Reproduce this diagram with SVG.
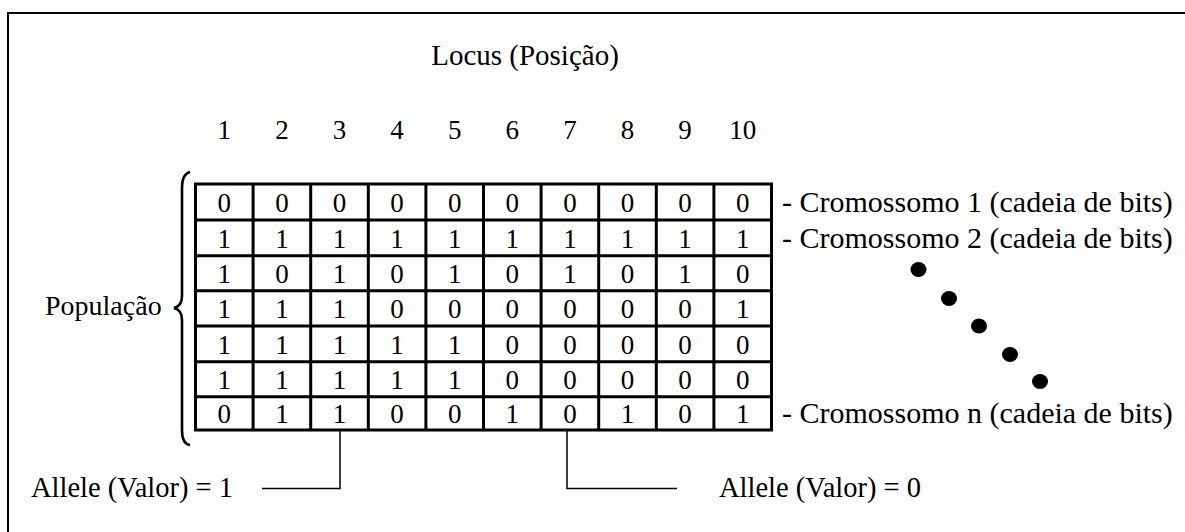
<svg xmlns="http://www.w3.org/2000/svg" width="1185" height="532" viewBox="0 0 1185 532">
  <style>
    text { font-family: "Liberation Serif", "Times New Roman", serif; fill: #000; }
    .num { font-size: 27px; text-anchor: middle; }
    .lbl { font-size: 28.5px; }
    .chr { font-size: 30px; }
    .grid { fill: none; stroke: #000; stroke-width: 3; }
    .thin { fill: none; stroke: #000; stroke-width: 1.5; }
    .dot { fill: #000; }
  </style>

  <!-- outer frame (runs past the right and bottom edges) -->
  <rect x="8" y="13" width="1200" height="540" fill="#fff" stroke="#000" stroke-width="2"/>

  <!-- title -->
  <g id="title">
    <text x="525" y="65" text-anchor="middle" style="font-size:29px">Locus (Posição)</text>
  </g>

  <!-- locus indices -->
  <g id="locus-index">
    <text class="num" x="224.3" y="139">1</text>
    <text class="num" x="281.9" y="139">2</text>
    <text class="num" x="339.5" y="139">3</text>
    <text class="num" x="397.1" y="139">4</text>
    <text class="num" x="454.7" y="139">5</text>
    <text class="num" x="512.3" y="139">6</text>
    <text class="num" x="569.9" y="139">7</text>
    <text class="num" x="627.5" y="139">8</text>
    <text class="num" x="685.1" y="139">9</text>
    <text class="num" x="742.7" y="139">10</text>
  </g>

  <!-- population bit matrix -->
  <g id="matrix">
    <rect class="grid" x="195.5" y="184" width="576" height="246"/>
    <path class="grid" d="M253.1,184V430 M310.7,184V430 M368.3,184V430 M425.9,184V430 M483.5,184V430 M541.1,184V430 M598.7,184V430 M656.3,184V430 M713.9,184V430"/>
    <path class="grid" d="M195.5,220H771.5 M195.5,255.7H771.5 M195.5,290.7H771.5 M195.5,326H771.5 M195.5,361.7H771.5 M195.5,396.7H771.5"/>

    <g id="row1">
      <text class="num" x="224.3" y="212">0</text><text class="num" x="281.9" y="212">0</text><text class="num" x="339.5" y="212">0</text><text class="num" x="397.1" y="212">0</text><text class="num" x="454.7" y="212">0</text><text class="num" x="512.3" y="212">0</text><text class="num" x="569.9" y="212">0</text><text class="num" x="627.5" y="212">0</text><text class="num" x="685.1" y="212">0</text><text class="num" x="742.7" y="212">0</text>
    </g>
    <g id="row2">
      <text class="num" x="224.3" y="248">1</text><text class="num" x="281.9" y="248">1</text><text class="num" x="339.5" y="248">1</text><text class="num" x="397.1" y="248">1</text><text class="num" x="454.7" y="248">1</text><text class="num" x="512.3" y="248">1</text><text class="num" x="569.9" y="248">1</text><text class="num" x="627.5" y="248">1</text><text class="num" x="685.1" y="248">1</text><text class="num" x="742.7" y="248">1</text>
    </g>
    <g id="row3">
      <text class="num" x="224.3" y="283">1</text><text class="num" x="281.9" y="283">0</text><text class="num" x="339.5" y="283">1</text><text class="num" x="397.1" y="283">0</text><text class="num" x="454.7" y="283">1</text><text class="num" x="512.3" y="283">0</text><text class="num" x="569.9" y="283">1</text><text class="num" x="627.5" y="283">0</text><text class="num" x="685.1" y="283">1</text><text class="num" x="742.7" y="283">0</text>
    </g>
    <g id="row4">
      <text class="num" x="224.3" y="318">1</text><text class="num" x="281.9" y="318">1</text><text class="num" x="339.5" y="318">1</text><text class="num" x="397.1" y="318">0</text><text class="num" x="454.7" y="318">0</text><text class="num" x="512.3" y="318">0</text><text class="num" x="569.9" y="318">0</text><text class="num" x="627.5" y="318">0</text><text class="num" x="685.1" y="318">0</text><text class="num" x="742.7" y="318">1</text>
    </g>
    <g id="row5">
      <text class="num" x="224.3" y="354">1</text><text class="num" x="281.9" y="354">1</text><text class="num" x="339.5" y="354">1</text><text class="num" x="397.1" y="354">1</text><text class="num" x="454.7" y="354">1</text><text class="num" x="512.3" y="354">0</text><text class="num" x="569.9" y="354">0</text><text class="num" x="627.5" y="354">0</text><text class="num" x="685.1" y="354">0</text><text class="num" x="742.7" y="354">0</text>
    </g>
    <g id="row6">
      <text class="num" x="224.3" y="389">1</text><text class="num" x="281.9" y="389">1</text><text class="num" x="339.5" y="389">1</text><text class="num" x="397.1" y="389">1</text><text class="num" x="454.7" y="389">1</text><text class="num" x="512.3" y="389">0</text><text class="num" x="569.9" y="389">0</text><text class="num" x="627.5" y="389">0</text><text class="num" x="685.1" y="389">0</text><text class="num" x="742.7" y="389">0</text>
    </g>
    <g id="row7">
      <text class="num" x="224.3" y="423">0</text><text class="num" x="281.9" y="423">1</text><text class="num" x="339.5" y="423">1</text><text class="num" x="397.1" y="423">0</text><text class="num" x="454.7" y="423">0</text><text class="num" x="512.3" y="423">1</text><text class="num" x="569.9" y="423">0</text><text class="num" x="627.5" y="423">1</text><text class="num" x="685.1" y="423">0</text><text class="num" x="742.7" y="423">1</text>
    </g>
  </g>

  <!-- population brace and label -->
  <g id="population">
    <path fill="none" stroke="#000" stroke-width="2.6" d="M190,172 Q182,174 182,188 L182,296 Q182,306 174,308 Q182,310 182,320 L182,430 Q182,444 190,445"/>
    <text class="lbl" x="45" y="315" style="font-size:28px">População</text>
  </g>

  <!-- chromosome labels -->
  <g id="chromosome-labels">
    <text class="chr" x="782" y="212">- Cromossomo 1 (cadeia de bits)</text>
    <text class="chr" x="782" y="248">- Cromossomo 2 (cadeia de bits)</text>
    <text class="chr" x="782" y="423">- Cromossomo n (cadeia de bits)</text>
  </g>

  <!-- ellipsis dots -->
  <g id="ellipsis">
    <ellipse class="dot" cx="918.5" cy="269.5" rx="8" ry="7.5"/>
    <ellipse class="dot" cx="949" cy="298.5" rx="8" ry="7.5"/>
    <ellipse class="dot" cx="979" cy="326" rx="8" ry="7.5"/>
    <ellipse class="dot" cx="1010" cy="354.5" rx="8" ry="7.5"/>
    <ellipse class="dot" cx="1040" cy="381.5" rx="8" ry="7.5"/>
  </g>

  <!-- allele callouts -->
  <g id="connectors">
    <path class="thin" d="M340,430 V488.5 H262"/>
    <path class="thin" d="M567,430 V488.5 H677"/>
  </g>
  <g id="allele-1">
    <text class="lbl" x="31" y="497">Allele (Valor) = 1</text>
  </g>
  <g id="allele-0">
    <text class="lbl" x="719" y="497">Allele (Valor) = 0</text>
  </g>
</svg>
